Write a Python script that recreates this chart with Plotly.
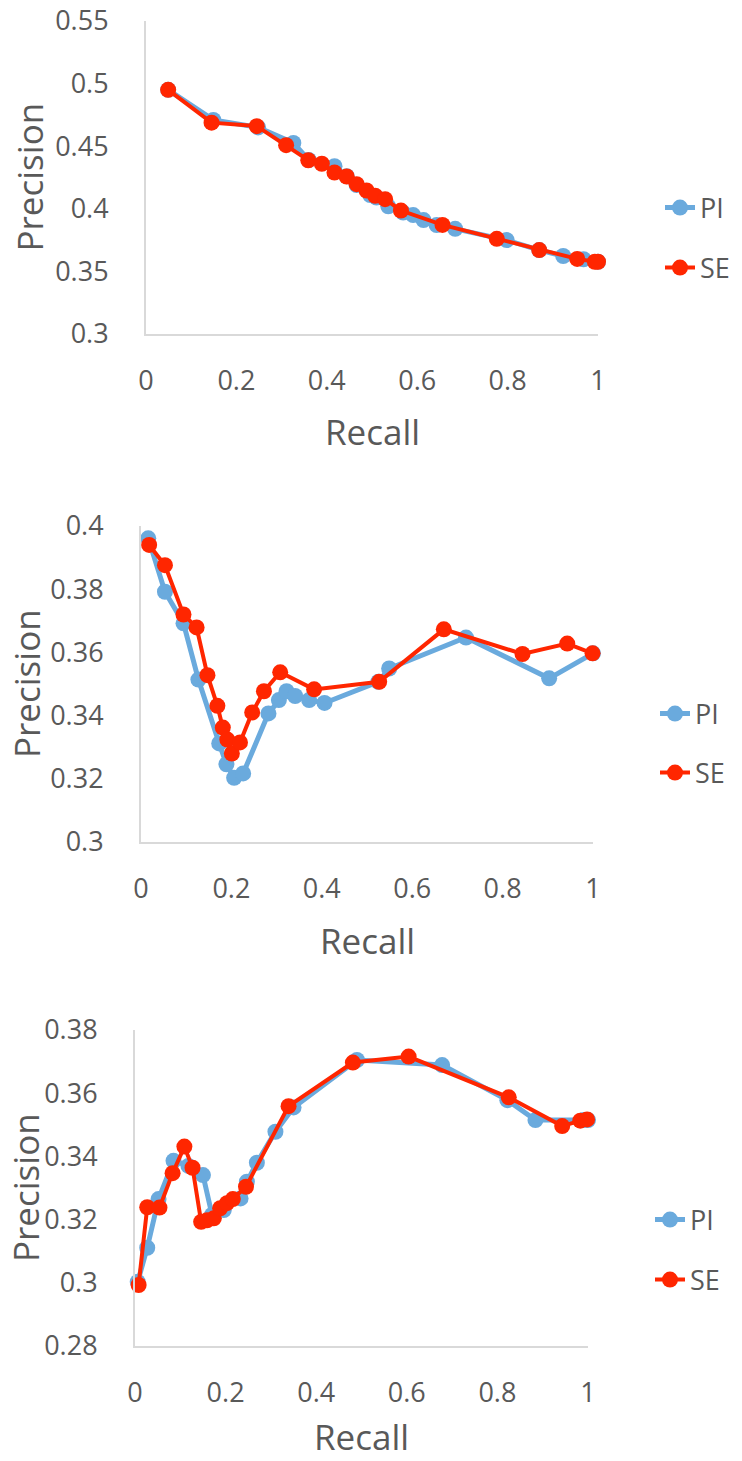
import plotly.graph_objects as go

W, H = 742, 1461

# ---------------- data ----------------
# Chart 1
c1_pi_recall = [0.049, 0.149, 0.248, 0.326, 0.360, 0.417, 0.444, 0.466, 0.496, 0.510, 0.536, 0.569,
                0.591, 0.614, 0.643, 0.684, 0.798, 0.870, 0.923, 0.968, 1.0]
c1_pi_prec = [0.495, 0.471, 0.465, 0.4526, 0.439, 0.434, 0.426, 0.419, 0.411, 0.409, 0.402, 0.397,
              0.395, 0.391, 0.387, 0.384, 0.375, 0.367, 0.3623, 0.3597, 0.3577]
c1_se_recall = [0.049, 0.145, 0.245, 0.310, 0.359, 0.389, 0.417, 0.444, 0.466, 0.488, 0.507, 0.529,
                0.564, 0.656, 0.776, 0.870, 0.954, 0.993, 1.0]
c1_se_prec = [0.495, 0.4688, 0.466, 0.4508, 0.4388, 0.436, 0.429, 0.4258, 0.4197, 0.4146, 0.4104,
              0.4077, 0.3986, 0.3871, 0.376, 0.367, 0.360, 0.3577, 0.3577]

# Chart 2
c2_pi_recall = [0.016, 0.053, 0.094, 0.127, 0.173, 0.189, 0.206, 0.226, 0.282, 0.305, 0.322, 0.341,
                0.372, 0.406, 0.525, 0.549, 0.719, 0.903, 1.0]
c2_pi_prec = [0.3961, 0.3792, 0.3692, 0.3514, 0.3312, 0.3246, 0.3203, 0.3217, 0.3407, 0.3449, 0.3477,
              0.3462, 0.3449, 0.344, 0.3507, 0.3549, 0.3647, 0.3518, 0.3597]
c2_se_recall = [0.018, 0.053, 0.094, 0.123, 0.147, 0.169, 0.181, 0.191, 0.201, 0.219, 0.246, 0.272,
                0.308, 0.383, 0.527, 0.670, 0.844, 0.943, 0.999]
c2_se_prec = [0.394, 0.3876, 0.372, 0.3679, 0.3528, 0.3431, 0.3362, 0.3324, 0.328, 0.3315, 0.341,
              0.3477, 0.3537, 0.3483, 0.3507, 0.3673, 0.3595, 0.3628, 0.3597]

# Chart 3
c3_pi_recall = [0.006, 0.027, 0.052, 0.085, 0.118, 0.150, 0.170, 0.196, 0.233, 0.247, 0.269, 0.310,
                0.350, 0.490, 0.678, 0.822, 0.884, 0.990, 1.0]
c3_pi_prec = [0.3003, 0.3111, 0.3265, 0.3386, 0.337, 0.3341, 0.3215, 0.323, 0.3267, 0.332, 0.338,
              0.3478, 0.3555, 0.3705, 0.3689, 0.3578, 0.3515, 0.3515, 0.3515]
c3_se_recall = [0.008, 0.027, 0.054, 0.083, 0.109, 0.127, 0.146, 0.159, 0.174, 0.188, 0.203, 0.216,
                0.245, 0.339, 0.481, 0.604, 0.825, 0.943, 0.983, 0.998]
c3_se_prec = [0.2993, 0.3239, 0.3238, 0.3347, 0.3431, 0.3364, 0.3193, 0.3198, 0.3204, 0.3236, 0.3252,
              0.3265, 0.3304, 0.3559, 0.3697, 0.3716, 0.3587, 0.3496, 0.3513, 0.3517]

series_names = ["PI", "SE"]
x_ticks = [0, 0.2, 0.4, 0.6, 0.8, 1]
y_ranges = [[0.3, 0.55], [0.3, 0.4], [0.28, 0.38]]
y_dticks = [0.05, 0.02, 0.02]

# ---------------- styling / layout ----------------
BLUE = "#6AAADD"
RED = "#FF2600"
TXT = "#595959"
FONT = "Open Sans"
AXC = "#D9D9D9"

# plot boxes in pixels: (left, right, top, bottom)
boxes = [(146, 598, 21, 334), (141, 593, 526, 842), (135, 588, 1030, 1346)]
legend_rows = [(208, 268), (714, 773), (1220, 1280)]
ytitle_x = [29, 26, 25]
xtitle_y = [432, 940, 1436]

data = [
    (c1_pi_recall, c1_pi_prec, c1_se_recall, c1_se_prec),
    (c2_pi_recall, c2_pi_prec, c2_se_recall, c2_se_prec),
    (c3_pi_recall, c3_pi_prec, c3_se_recall, c3_se_prec),
]

fig = go.Figure()
layout = dict(
    width=W, height=H, autosize=False,
    margin=dict(l=0, r=0, t=0, b=0, autoexpand=False),
    paper_bgcolor="white", plot_bgcolor="white",
    font=dict(family=FONT, color=TXT, size=27),
    showlegend=True,
)
annotations = []

for i, (pr, pp, sr, sp) in enumerate(data):
    k = i + 1
    xa = "x" if k == 1 else f"x{k}"
    ya = "y" if k == 1 else f"y{k}"
    lg_pi = "legend" if 2 * i == 0 else f"legend{2 * i + 1}"
    lg_se = f"legend{2 * i + 2}"
    fig.add_trace(go.Scatter(
        x=pr, y=pp, name=series_names[0], mode="lines+markers", xaxis=xa, yaxis=ya,
        line=dict(color=BLUE, width=5), marker=dict(color=BLUE, size=16),
        cliponaxis=False, legend=lg_pi))
    fig.add_trace(go.Scatter(
        x=sr, y=sp, name=series_names[1], mode="lines+markers", xaxis=xa, yaxis=ya,
        line=dict(color=RED, width=4), marker=dict(color=RED, size=16),
        cliponaxis=False, legend=lg_se))

    l, r, t, b = boxes[i]
    xkey = "xaxis" if k == 1 else f"xaxis{k}"
    ykey = "yaxis" if k == 1 else f"yaxis{k}"
    layout[xkey] = dict(
        domain=[l / W, r / W], range=[0, 1], anchor=ya, automargin=False,
        tickvals=x_ticks, ticktext=[f"{v:g}" for v in x_ticks],
        showgrid=False, zeroline=False, showline=True, linecolor=AXC, linewidth=2,
        ticks="", ticklabelstandoff=22, tickfont=dict(size=27, color=TXT, family=FONT),
        fixedrange=True)
    y0, y1 = y_ranges[i]
    layout[ykey] = dict(
        domain=[1 - b / H, 1 - t / H], range=[y0, y1], anchor=xa, automargin=False,
        tick0=y0, dtick=y_dticks[i],
        showgrid=False, zeroline=False, showline=True, linecolor=AXC, linewidth=2,
        ticks="", ticklabelstandoff=30, tickfont=dict(size=27, color=TXT, family=FONT),
        fixedrange=True)

    # axis titles
    annotations.append(dict(text="Recall", xref="paper", yref="paper",
                            x=((l + r) / 2) / W, y=1 - xtitle_y[i] / H,
                            xanchor="center", yanchor="middle", showarrow=False,
                            font=dict(size=35, color=TXT, family=FONT)))
    annotations.append(dict(text="Precision", xref="paper", yref="paper",
                            x=ytitle_x[i] / W, y=1 - ((t + b) / 2) / H, textangle=-90,
                            xanchor="center", yanchor="middle", showarrow=False,
                            font=dict(size=35, color=TXT, family=FONT)))

    # legends
    ypi, yse = legend_rows[i]
    for name_key, yy in ((lg_pi, ypi), (lg_se, yse)):
        layout[name_key] = dict(x=(r + 62) / W, y=1 - yy / H, xanchor="left", yanchor="middle",
                                bgcolor="rgba(0,0,0,0)", font=dict(size=27, color=TXT, family=FONT),
                                itemwidth=30)

layout["annotations"] = annotations
fig.update_layout(**layout)
fig.write_html("out.html")
